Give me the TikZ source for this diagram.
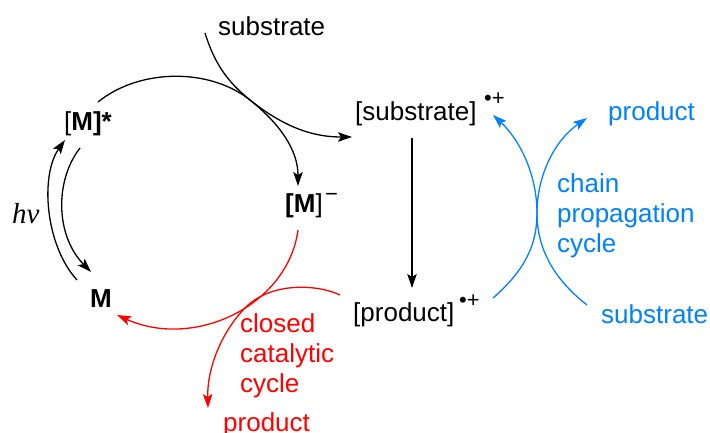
\documentclass[tikz,border=0pt]{standalone}
\usepackage{fontspec}
\setmainfont{Liberation Sans}
\newfontfamily\serifit{Liberation Serif}
\usetikzlibrary{arrows.meta}
\definecolor{cycred}{RGB}{255,0,0}
\definecolor{chainblue}{RGB}{0,128,255}
\begin{document}
\begin{tikzpicture}[x=1pt,y=-1pt,
  lbl/.style={inner sep=0pt, anchor=base west, font=\fontsize{26}{30}\selectfont},
  multi/.style={inner sep=0pt, anchor=north west, align=left, font=\fontsize{26}{30}\selectfont},
  chg/.style={inner sep=0pt, anchor=base west, font=\fontsize{22}{22}\selectfont},
  flow/.style={line width=1.3pt, -{Stealth[length=14pt,width=9.5pt,inset=3pt]}}
]
\useasboundingbox (0,0) rectangle (710,432);

% species
\node[lbl] (subtop) at (218,35) {substrate};
\node[lbl] (mstar) at (64,130) {[\textbf{M]*}};
\node[lbl] (mminus) at (285,212) {\textbf{[M}]};
\node[chg] (mminuschg) at (325,201) {−};
\node[lbl] (mground) at (90,307) {\textbf{M}};
\node[lbl, font=\serifit\itshape\fontsize{29}{30}\selectfont] (hv) at (12,223) {hv};
\node[lbl] (subrc) at (355,120) {[substrate]};
\node[chg] (subrcchg) at (484,105) {•+};
\node[lbl] (prodrc) at (353,321) {[product]};
\node[chg] (prodrcchg) at (459,307) {•+};

% chain propagation labels
\node[lbl, text=chainblue] (prodblue) at (608,120) {product};
\node[lbl, text=chainblue] (subblue) at (601,323) {substrate};
\node[multi, text=chainblue] (chain) at (557,173) {chain\\propagation\\cycle};

% closed cycle labels
\node[multi, text=cycred] (closed) at (240,313) {closed\\catalytic\\cycle};
\node[lbl, text=cycred] (prodred) at (223,431) {product};

% connector end points
\coordinate (a1) at (98,102);
\coordinate (a2) at (352,137);
\coordinate (b1) at (205,33);
\coordinate (b2) at (298,186);
\coordinate (d1) at (412,138);
\coordinate (d2) at (412,288);
\coordinate (h1) at (77,280);
\coordinate (h2) at (65,140);
\coordinate (h3) at (80,148);
\coordinate (h4) at (91,272);
\coordinate (r1) at (298,230);
\coordinate (r2) at (117,315);
\coordinate (r3) at (340,295);
\coordinate (r4) at (208,408);
\coordinate (c1) at (493,298);
\coordinate (c2) at (587,118);
\coordinate (c3) at (587,305);
\coordinate (c4) at (493,115);

% black arrows
\draw[flow] (a1) .. controls (140,68) and (210,68) .. (250,100)
                 .. controls (290,132) and (320,137) .. (a2);
\draw[flow] (b1) .. controls (215,65) and (228,82) .. (250,100)
                 .. controls (280,124) and (298,150) .. (b2);
\draw[flow] (d1) -- (d2);
\draw[flow] (h1) .. controls (45,245) and (40,175) .. (h2);
\draw[flow] (h3) .. controls (55,180) and (55,235) .. (h4);

% closed catalytic cycle
\draw[flow, cycred] (r1) .. controls (288,305) and (195,350) .. (r2);
\draw[flow, cycred] (r3) .. controls (320,285) and (270,280) .. (243,310)
                         .. controls (220,335) and (207,370) .. (r4);

% chain propagation cycle
\draw[flow, chainblue] (c1) .. controls (525,270) and (537,245) .. (537,213)
                            .. controls (537,175) and (555,140) .. (c2);
\draw[flow, chainblue] (c3) .. controls (555,280) and (537,250) .. (537,213)
                            .. controls (537,175) and (520,140) .. (c4);
\end{tikzpicture}
\end{document}
